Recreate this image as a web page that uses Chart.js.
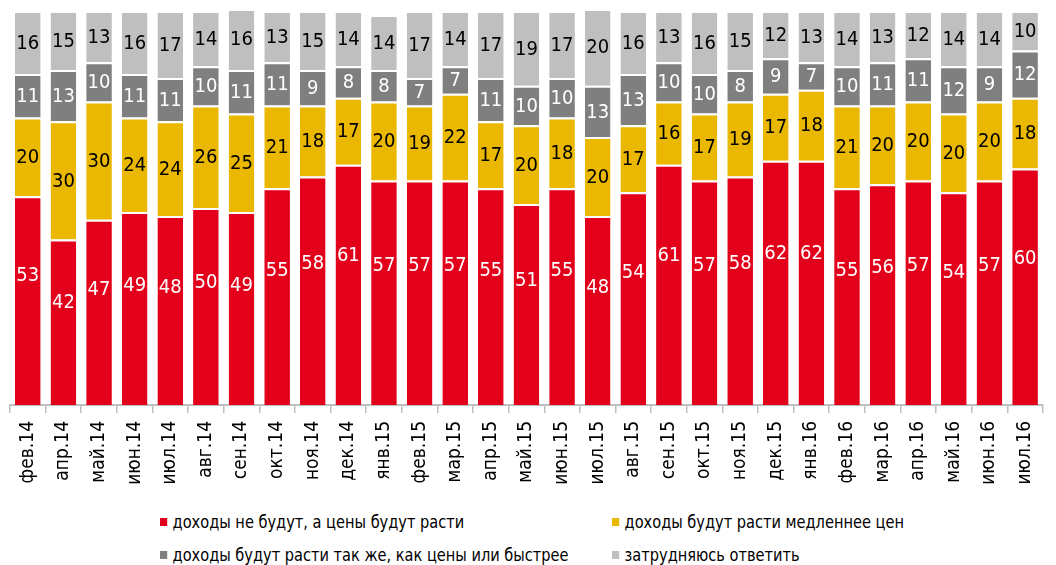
<!DOCTYPE html>
<html>
<head>
<meta charset="utf-8">
<script src="https://cdn.jsdelivr.net/npm/chart.js@4"></script>
<style>
  html, body { margin: 0; padding: 0; background: #fff; }
  body { width: 1056px; height: 565px; overflow: hidden; position: relative; }
  #wrap { position: absolute; left: 0; top: 0; width: 1056px; height: 495px; }
  .leg { position: absolute; font-family: 'Liberation Sans Narrow', 'DejaVu Sans Condensed', sans-serif;
         font-size: 18px; color: #000; white-space: nowrap; line-height: 20px;
         transform: scaleX(0.9); transform-origin: 0 50%; }
  .leg i { display: inline-block; width: 8px; height: 8px; margin-right: 6px; vertical-align: 2px; }
</style>
</head>
<body>
<div id="wrap"><canvas id="grafico"></canvas></div>
<div id="legenda"></div>
<script>
// Месяцы опроса
const categorias = ['фев.14', 'апр.14', 'май.14', 'июн.14', 'июл.14', 'авг.14', 'сен.14', 'окт.14', 'ноя.14', 'дек.14',
    'янв.15', 'фев.15', 'мар.15', 'апр.15', 'май.15', 'июн.15', 'июл.15', 'авг.15', 'сен.15', 'окт.15',
    'ноя.15', 'дек.15', 'янв.16', 'фев.16', 'мар.16', 'апр.16', 'май.16', 'июн.16', 'июл.16'];

const naoCrescem = [53, 42, 47, 49, 48, 50, 49, 55, 58, 61, 57, 57, 57, 55, 51, 55, 48, 54, 61, 57, 58, 62, 62, 55, 56, 57, 54, 57, 60];
const maisDevagar = [20, 30, 30, 24, 24, 26, 25, 21, 18, 17, 20, 19, 22, 17, 20, 18, 20, 17, 16, 17, 19, 17, 18, 21, 20, 20, 20, 20, 18];
const igualOuMais = [11, 13, 10, 11, 11, 10, 11, 11, 9, 8, 8, 7, 7, 11, 10, 10, 13, 13, 10, 10, 8, 9, 7, 10, 11, 11, 12, 9, 12];
const semResposta = [16, 15, 13, 16, 17, 14, 16, 13, 15, 14, 14, 17, 14, 17, 19, 17, 20, 16, 13, 16, 15, 12, 13, 14, 13, 12, 14, 14, 10];

const fonte = "'Liberation Sans Narrow', 'DejaVu Sans Condensed', sans-serif";

const series = [
    { label: 'доходы не будут, а цены будут расти', data: naoCrescem, cor: '#e2001a', txt: '#fff' },
    { label: 'доходы будут расти медленнее цен', data: maisDevagar, cor: '#eab800', txt: '#000' },
    { label: 'доходы будут расти так же, как цены или быстрее', data: igualOuMais, cor: '#7f7f7f', txt: '#fff' },
    { label: 'затрудняюсь ответить', data: semResposta, cor: '#bfbfbf', txt: '#000' }
];

// rótulos dentro das barras
const rotulos = {
    id: 'rotulos',
    afterDatasetsDraw(chart) {
        const ctx = chart.ctx;
        ctx.save();
        ctx.font = '20px ' + fonte;
        ctx.textAlign = 'center';
        ctx.textBaseline = 'middle';
        chart.data.datasets.forEach((ds, i) => {
            const meta = chart.getDatasetMeta(i);
            meta.data.forEach((bar, j) => {
                const h = bar.base - bar.y;
                const y = i === 0 ? bar.y + h * 0.38 : bar.y + h / 2 + 1;
                ctx.fillStyle = series[i].txt;
                ctx.fillText(String(ds.data[j]), bar.x, y);
            });
        });
        ctx.restore();
    }
};

const config = {
    type: 'bar',
    data: {
        labels: categorias,
        datasets: series.map(s => ({
            label: s.label,
            data: s.data,
            backgroundColor: s.cor,
            borderColor: '#ffffff',
            borderWidth: { top: 2, left: 0, right: 0, bottom: 0 },
            borderSkipped: false,
            categoryPercentage: 1,
            barPercentage: 0.72
        }))
    },
    options: {
        responsive: true,
        maintainAspectRatio: false,
        animation: false,
        layout: { padding: { left: 10, right: 7, top: 11, bottom: 0 } },
        plugins: { legend: { display: false }, tooltip: { enabled: false } },
        scales: {
            x: {
                stacked: true,
                grid: { offset: true, drawOnChartArea: false, drawTicks: true, tickLength: 8, color: '#bfbfbf', lineWidth: 1.5 },
                border: { display: true, color: '#bfbfbf', width: 2 },
                ticks: { minRotation: 90, maxRotation: 90, autoSkip: false, color: '#000', padding: 8,
                         font: { family: fonte, size: 19 } },
                afterFit(s) { s.height = 90; }
            },
            y: { stacked: true, display: false, min: 0, max: 100 }
        }
    },
    plugins: [rotulos]
};

new Chart(document.getElementById('grafico').getContext('2d'), config);

// legenda em duas colunas
const posLegenda = [[160, 512], [612, 512], [160, 545], [612, 545]];
const leg = document.getElementById('legenda');
series.forEach((s, i) => {
    const d = document.createElement('div');
    d.className = 'leg';
    d.style.left = posLegenda[i][0] + 'px';
    d.style.top = posLegenda[i][1] + 'px';
    d.innerHTML = '<i style="background:' + s.cor + '"></i>' + s.label;
    leg.appendChild(d);
});
</script>
</body>
</html>
